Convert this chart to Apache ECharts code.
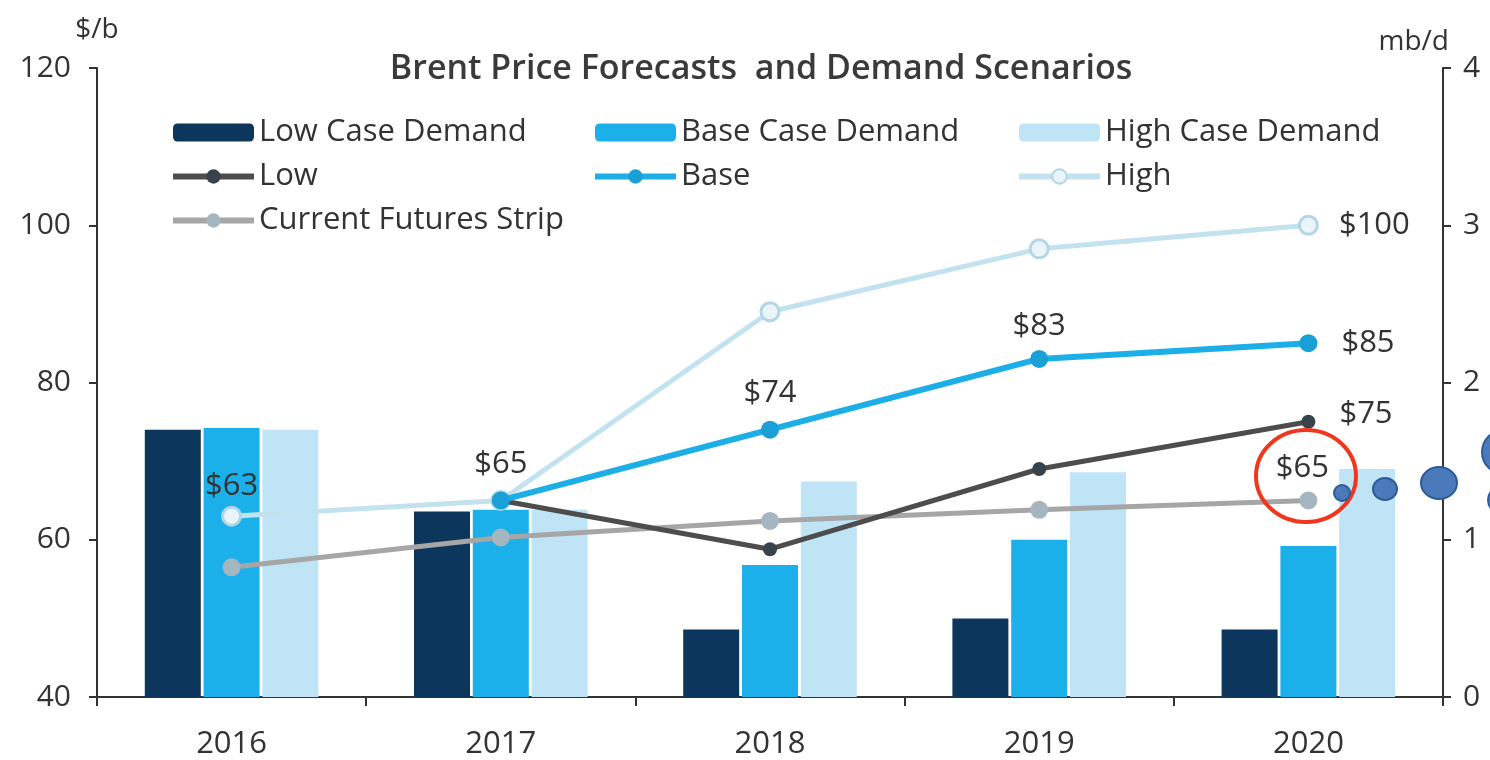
<!DOCTYPE html>
<html>
<head>
<meta charset="utf-8">
<script src="https://cdn.jsdelivr.net/npm/echarts@6/dist/echarts.min.js"></script>
<style>
  html, body { margin: 0; padding: 0; background: #fff; }
  #chart { width: 1490px; height: 760px; }
</style>
</head>
<body>
<div id="chart"></div>
<script>
// 数据
var years = ['2016', '2017', '2018', '2019', '2020'];
var lowDemand = [1.70, 1.18, 0.43, 0.50, 0.43];
var baseDemand = [1.71, 1.19, 0.84, 1.00, 0.96];
var highDemand = [1.70, 1.19, 1.37, 1.43, 1.45];
var lowPrice = [null, 65, 58.8, 69, 75];
var basePrice = [null, 65, 74, 83, 85];
var highPrice = [63, 65, 89, 97, 100];
var futuresPrice = [56.5, 60.3, 62.4, 63.8, 65];
var leftTicks = [40, 60, 80, 100, 120];
var rightTicks = [0, 1, 2, 3, 4];

var font = '"Open Sans", "Noto Sans", sans-serif';
var textColor = '#333';

// 哪些点显示标签
function withLabels(values, labelled) {
  return values.map(function (v, i) {
    if (labelled[i] === undefined || v === null) return v;
    return {
      value: v,
      label: Object.assign({
        show: true,
        formatter: '${c}',
        color: textColor,
        fontSize: 31,
        fontFamily: font
      }, labelled[i])
    };
  });
}

var chart = echarts.init(document.getElementById('chart'));

var legendText = { fontSize: 31, color: textColor, fontFamily: font, padding: [0, 0, 0, 0] };
var legendCommon = {
  orient: 'vertical', top: 112, itemGap: 13,
  itemWidth: 81, itemHeight: 18, textStyle: legendText,
  lineStyle: { width: 6 }
};

chart.setOption({
  animation: false,
  backgroundColor: '#fff',
  title: {
    text: 'Brent Price Forecasts  and Demand Scenarios',
    left: 756,
    top: 47,
    textAlign: 'center',
    textStyle: { fontSize: 34, fontWeight: 600, color: '#3a3a3a', fontFamily: font }
  },
  legend: [Object.assign({
    data: ['Low Case Demand', 'Low', 'Current Futures Strip'], left: 165
  }, legendCommon), Object.assign({
    data: ['Base Case Demand', 'Base'], left: 587
  }, legendCommon), Object.assign({
    data: ['High Case Demand', 'High'], left: 1011
  }, legendCommon)],
  grid: { left: 97, right: 47, top: 68, bottom: 62 },
  xAxis: {
    type: 'category',
    data: years,
    axisLine: { lineStyle: { color: '#333', width: 2 } },
    axisTick: { show: true, length: 9, lineStyle: { color: '#333', width: 2 } },
    axisLabel: { color: textColor, fontSize: 31, fontFamily: font, margin: 32 }
  },
  yAxis: [{
    type: 'value',
    name: '$/b',
    nameLocation: 'end',
    nameGap: 24,
    nameTextStyle: { color: textColor, fontSize: 28, fontFamily: font, align: 'center' },
    min: leftTicks[0],
    max: leftTicks[leftTicks.length - 1],
    interval: 20,
    axisLine: { show: true, lineStyle: { color: '#333', width: 2 } },
    axisTick: { show: true, length: 8, lineStyle: { color: '#333', width: 2 } },
    axisLabel: { color: textColor, fontSize: 30, fontFamily: font, margin: 26 },
    splitLine: { show: false }
  }, {
    type: 'value',
    name: 'mb/d',
    nameLocation: 'end',
    nameGap: 12,
    nameTextStyle: { color: textColor, fontSize: 28, fontFamily: font, align: 'right', padding: [0, -6, 0, 0] },
    min: rightTicks[0],
    max: rightTicks[rightTicks.length - 1],
    interval: 1,
    axisLine: { show: true, lineStyle: { color: '#333', width: 2 } },
    axisTick: { show: true, length: 8, lineStyle: { color: '#333', width: 2 } },
    axisLabel: { color: textColor, fontSize: 30, fontFamily: font, margin: 20 },
    splitLine: { show: false }
  }],
  series: [{
    name: 'Low Case Demand', type: 'bar', yAxisIndex: 1,
    data: lowDemand, barWidth: 56, barGap: '5%', barCategoryGap: '35%',
    itemStyle: { color: '#0c365b' }, z: 1
  }, {
    name: 'Base Case Demand', type: 'bar', yAxisIndex: 1,
    data: baseDemand, barWidth: 56, barGap: '5%',
    itemStyle: { color: '#1cb0ea' }, z: 1
  }, {
    name: 'High Case Demand', type: 'bar', yAxisIndex: 1,
    data: highDemand, barWidth: 56, barGap: '5%',
    itemStyle: { color: '#bfe4f6' }, z: 1
  }, {
    name: 'Current Futures Strip', type: 'line', yAxisIndex: 0,
    data: withLabels(futuresPrice, { 4: { position: 'top', distance: 8, offset: [-6, 0] } }),
    symbol: 'circle', symbolSize: 18,
    lineStyle: { color: '#a6a6a6', width: 5 },
    itemStyle: { color: '#a5b6c0' }, z: 3
  }, {
    name: 'High', type: 'line', yAxisIndex: 0,
    data: withLabels(highPrice, {
      0: { position: 'top', distance: 4 },
      1: { position: 'top', distance: 10 },
      4: { position: 'right', distance: 20 }
    }),
    symbol: 'circle', symbolSize: 18,
    lineStyle: { color: '#c3e2f0', width: 5 },
    itemStyle: { color: '#eaf5fa', borderColor: '#b3d6e6', borderWidth: 3 }, z: 4
  }, {
    name: 'Low', type: 'line', yAxisIndex: 0,
    data: withLabels(lowPrice, { 4: { position: 'right', distance: 24, offset: [0, -8] } }),
    symbol: 'circle', symbolSize: 14,
    lineStyle: { color: '#4d4d4d', width: 5 },
    itemStyle: { color: '#38424a' }, z: 5
  }, {
    name: 'Base', type: 'line', yAxisIndex: 0,
    data: withLabels(basePrice, {
      2: { position: 'top', distance: 12 },
      3: { position: 'top', distance: 8 },
      4: { position: 'right', distance: 24 }
    }),
    symbol: 'circle', symbolSize: 18,
    lineStyle: { color: '#1caee6', width: 6 },
    itemStyle: { color: '#1a9fd6' }, z: 6
  }],
  // 截图上的标注（红圈和蓝点）
  graphic: [{
    type: 'ellipse', shape: { cx: 1306, cy: 476, rx: 50, ry: 46 },
    style: { fill: 'none', stroke: '#f0361c', lineWidth: 4 }, z: 100
  }, {
    type: 'circle', shape: { cx: 1342, cy: 493, r: 8 },
    style: { fill: '#4a7ab9', stroke: '#2c5b9a', lineWidth: 2 }, z: 100
  }, {
    type: 'ellipse', shape: { cx: 1385, cy: 489, rx: 12, ry: 11 },
    style: { fill: '#4a7ab9', stroke: '#2c5b9a', lineWidth: 2 }, z: 100
  }, {
    type: 'ellipse', shape: { cx: 1439, cy: 483, rx: 18, ry: 16 },
    style: { fill: '#4a7ab9', stroke: '#2c5b9a', lineWidth: 2 }, z: 100
  }, {
    type: 'circle', shape: { cx: 1504, cy: 452, r: 22 },
    style: { fill: '#4a7ab9', stroke: '#2c5b9a', lineWidth: 2 }, z: 100
  }, {
    type: 'circle', shape: { cx: 1502, cy: 500, r: 14 },
    style: { fill: '#4a7ab9', stroke: '#2c5b9a', lineWidth: 2 }, z: 100
  }]
});
</script>
</body>
</html>
